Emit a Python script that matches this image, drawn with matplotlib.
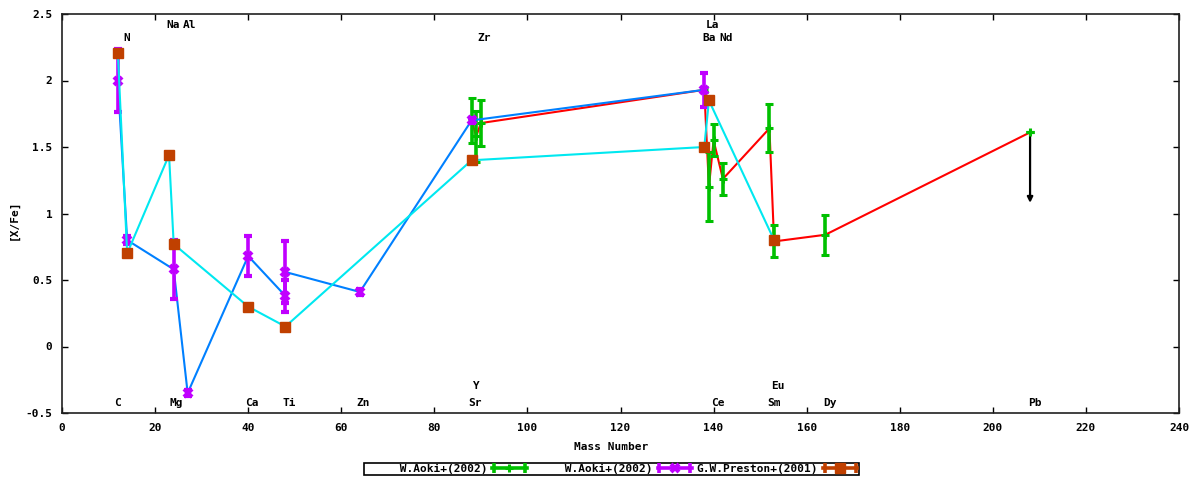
import matplotlib
matplotlib.use("Agg")
import matplotlib.pyplot as plt
from matplotlib.legend_handler import HandlerBase
from matplotlib.lines import Line2D

# ---------------- data ----------------
# W.Aoki+(2002), star 1 (green points, red connecting line)
aoki1_mass = [88, 89, 90, 138, 139, 140, 142, 152, 153, 164]
aoki1_xfe = [1.70, 1.58, 1.68, 1.93, 1.20, 1.55, 1.26, 1.64, 0.79, 0.84]
aoki1_err = [0.17, 0.19, 0.17, 0.02, 0.26, 0.12, 0.12, 0.18, 0.12, 0.15]
# upper limit (Pb)
aoki1_lim_mass = [208]
aoki1_lim_xfe = [1.61]
aoki1_lim_to = [1.08]

# W.Aoki+(2002), star 2 (purple points, blue connecting line)
aoki2_mass = [12, 14, 24, 27, 40, 48, 48, 64, 88, 138]
aoki2_xfe = [2.00, 0.80, 0.58, -0.35, 0.68, 0.38, 0.56, 0.41, 1.70, 1.93]
aoki2_err = [0.24, 0.03, 0.22, 0.02, 0.15, 0.12, 0.23, 0.02, 0.02, 0.13]

# G.W.Preston+(2001) (brown squares, cyan connecting line)
preston_mass = [12, 14, 23, 24, 40, 48, 88, 138, 139, 153]
preston_xfe = [2.21, 0.70, 1.44, 0.77, 0.30, 0.15, 1.40, 1.50, 1.85, 0.80]

# element labels (name, label x position)
top1_names = ["Na", "Al", "La"]
top1_x = [23.8, 27.5, 139.8]
top2_names = ["N", "Zr", "Ba", "Nd"]
top2_x = [13.9, 90.8, 139.0, 142.8]
bot1_names = ["C", "Mg", "Ca", "Ti", "Zn", "Sr", "Ce", "Sm", "Dy", "Pb"]
bot1_x = [12.0, 24.5, 40.8, 48.75, 64.8, 88.8, 140.9, 153.0, 165.0, 209.0]
bot2_names = ["Y", "Eu"]
bot2_x = [89.0, 153.9]

legend_labels = ["W.Aoki+(2002)", "W.Aoki+(2002)", "G.W.Preston+(2001)"]

# ---------------- style ----------------
GREEN = "#00C000"
PURPLE = "#C000FF"
BROWN = "#C04000"
RED = "#FF0000"
BLUE = "#0080FF"
CYAN = "#00E8F0"

FONT = ["DejaVu Sans Mono"]
plt.rcParams["font.family"] = FONT
plt.rcParams["font.weight"] = "bold"
plt.rcParams["font.size"] = 8

fig = plt.figure(figsize=(12, 4.8), dpi=100)
W, H = 1200, 480
L, R, T, B = 62, 1179, 14, 413
ax = fig.add_axes([L / W, 1 - B / H, (R - L) / W, (B - T) / H])

# connecting lines
ax.plot(aoki1_mass + aoki1_lim_mass, aoki1_xfe + aoki1_lim_xfe, color=RED, lw=1.5, zorder=2)
ax.plot(aoki2_mass, aoki2_xfe, color=BLUE, lw=1.5, zorder=4)
ax.plot(preston_mass, preston_xfe, color=CYAN, lw=1.5, zorder=6)

# green error bars
ax.errorbar(aoki1_mass, aoki1_xfe, yerr=aoki1_err, fmt="+", color=GREEN, ms=6,
            mew=2.2, elinewidth=2.6, capsize=3.0, capthick=2.4, zorder=3)
ax.errorbar(aoki1_lim_mass, aoki1_lim_xfe, yerr=[0.0], fmt="+", color=GREEN, ms=6,
            mew=2.2, elinewidth=2.6, capsize=3.0, capthick=2.4, zorder=3)
for xm, y0, y1 in zip(aoki1_lim_mass, aoki1_lim_xfe, aoki1_lim_to):
    ax.annotate("", xy=(xm, y1), xytext=(xm, y0),
                arrowprops=dict(arrowstyle="-|>", color="black", lw=1.6,
                                mutation_scale=8, shrinkA=0, shrinkB=0), zorder=3)

# purple error bars
ax.errorbar(aoki2_mass, aoki2_xfe, yerr=aoki2_err, fmt="x", color=PURPLE, ms=6,
            mew=3.0, elinewidth=2.6, capsize=3.0, capthick=2.4, zorder=5)

# brown squares
ax.plot(preston_mass, preston_xfe, ls="none", marker="s", ms=7.5, color=BROWN,
        mec=BROWN, zorder=7)

# element labels
def put_labels(names, xs, yv):
    for n, m in zip(names, xs):
        ax.text(m, yv, n, ha="center", va="center", fontsize=8,
                fontweight="bold", zorder=8)

put_labels(top1_names, top1_x, 2.42)
put_labels(top2_names, top2_x, 2.32)
put_labels(bot1_names, bot1_x, -0.425)
put_labels(bot2_names, bot2_x, -0.30)

# axes
ax.set_xlim(0, 240)
ax.set_ylim(-0.5, 2.5)
ax.set_xticks(range(0, 241, 20))
ax.set_yticks([-0.5, 0, 0.5, 1, 1.5, 2, 2.5])
ax.set_yticklabels(["-0.5", "0", "0.5", "1", "1.5", "2", "2.5"])
ax.tick_params(direction="in", length=4, width=1, top=True, right=True,
               labelsize=8, pad=7, colors="black")
for sp in ax.spines.values():
    sp.set_linewidth(1.2)
    sp.set_color("#202020")

fig.text(611 / W, 1 - 447 / H, "Mass Number", ha="center", va="center",
         fontsize=8, fontweight="bold")
fig.text(14 / W, 1 - 220 / H, "[X/Fe]", ha="center", va="center", rotation=90,
         fontsize=8, fontweight="bold")

# legend
class ErrHandler(HandlerBase):
    def __init__(self, color, marker, ms, mew):
        super().__init__()
        self.c = color
        self.marker = marker
        self.ms = ms
        self.mew = mew

    def create_artists(self, legend, orig_handle, xdescent, ydescent, width,
                       height, fontsize, trans):
        y = height / 2 - ydescent
        x0 = -xdescent
        x1 = x0 + width
        line = Line2D([x0, x1], [y, y], color=self.c, lw=2.6)
        caps = Line2D([x0 + 1.2, x1 - 1.2], [y, y], ls="none", marker="|",
                      ms=6.5, mew=2.6, color=self.c)
        mk = Line2D([(x0 + x1) / 2], [y], ls="none", marker=self.marker,
                    ms=self.ms, mew=self.mew, color=self.c, mec=self.c)
        for a in (line, caps, mk):
            a.set_transform(trans)
        return [line, caps, mk]

h1 = Line2D([], [])
h2 = Line2D([], [])
h3 = Line2D([], [])
width = max(len(s) for s in legend_labels)
labels = [s.rjust(width) for s in legend_labels]
leg = fig.legend([h1, h2, h3], labels, loc="center",
                 bbox_to_anchor=(611.5 / W, 1 - 469 / H), ncol=3,
                 markerfirst=False, frameon=True, fancybox=False,
                 framealpha=1, edgecolor="black", borderpad=0.12,
                 handlelength=3.1, handletextpad=0.45, columnspacing=0.4,
                 borderaxespad=0, handleheight=0.7,
                 prop=dict(family=FONT, size=8, weight="bold"),
                 handler_map={h1: ErrHandler(GREEN, "+", 6, 2.2),
                              h2: ErrHandler(PURPLE, "x", 6, 3.0),
                              h3: ErrHandler(BROWN, "s", 6.5, 1)})
leg.get_frame().set_linewidth(1.2)

fig.savefig("out.png", dpi=100)
